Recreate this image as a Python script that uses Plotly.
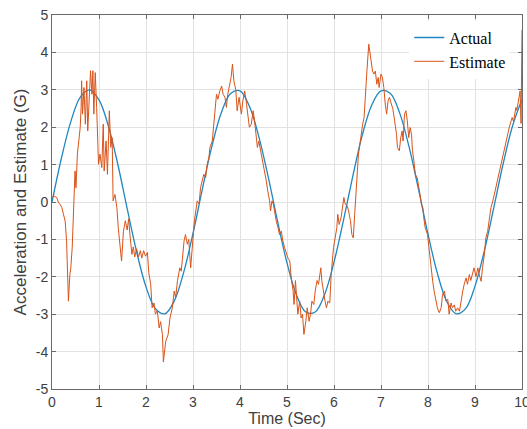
import plotly.graph_objects as go

# Actual acceleration, read at 0.2 s steps
actual_t = [round(i * 0.2, 1) for i in range(51)]
actual_v = [0, 1.17, 2.15, 2.80, 3.00, 2.73, 2.03, 1.01, -0.18, -1.33,
            -2.27, -2.85, -2.99, -2.65, -1.89, -0.84, 0.35, 1.48, 2.38, 2.90,
            2.97, 2.56, 1.75, 0.67, -0.52, -1.63, -2.48, -2.94, -2.94, -2.47,
            -1.61, -0.50, 0.69, 1.78, 2.58, 2.97, 2.90, 2.37, 1.46, 0.33,
            -0.86, -1.91, -2.66, -2.99, -2.85, -2.25, -1.30, -0.15, 1.03, 2.04, 2.74]

# Estimate
est_t = [0.00, 0.04, 0.10, 0.14, 0.17, 0.21, 0.24, 0.28, 0.31, 0.33, 0.35, 0.38, 0.40, 0.43,
         0.45, 0.48, 0.49, 0.51, 0.54, 0.57, 0.60, 0.62, 0.63, 0.65, 0.68, 0.71, 0.74, 0.76,
         0.79, 0.82, 0.85, 0.87, 0.89, 0.92, 0.95, 0.99, 1.02, 1.06, 1.09, 1.11, 1.15, 1.18,
         1.22, 1.25, 1.28, 1.30, 1.34, 1.38, 1.41, 1.45, 1.48, 1.52, 1.56, 1.60, 1.63, 1.66,
         1.70, 1.73, 1.76, 1.80, 1.84, 1.88, 1.91, 1.95, 1.99, 2.03,
         2.06, 2.10, 2.13, 2.17, 2.20, 2.24, 2.28, 2.31, 2.35, 2.37, 2.40, 2.42, 2.47, 2.51,
         2.56, 2.60, 2.63, 2.67, 2.72, 2.75, 2.81, 2.84, 2.88, 2.91, 2.95, 2.99, 3.03, 3.09,
         3.13, 3.16, 3.20, 3.23, 3.27, 3.30, 3.34, 3.36, 3.41, 3.45, 3.48, 3.50, 3.53, 3.57,
         3.61, 3.64, 3.68, 3.71, 3.74, 3.79, 3.81, 3.84, 3.87, 3.91, 3.94, 3.98,
         4.03, 4.06, 4.10, 4.13, 4.17, 4.20, 4.24, 4.28, 4.31, 4.35, 4.37, 4.40, 4.42, 4.45,
         4.49, 4.52, 4.56, 4.59, 4.63, 4.65, 4.68, 4.71, 4.74, 4.77, 4.81, 4.84, 4.88, 4.91,
         4.95, 4.99, 5.02, 5.06, 5.09, 5.13, 5.15, 5.18, 5.21, 5.23, 5.27, 5.30, 5.33, 5.36,
         5.40, 5.43, 5.47, 5.50, 5.53, 5.57, 5.60, 5.64, 5.67, 5.72, 5.74, 5.77, 5.81, 5.84,
         5.87, 5.91, 5.94,
         5.99, 6.03, 6.06, 6.08, 6.11, 6.15, 6.18, 6.21, 6.24, 6.28, 6.31, 6.35, 6.38, 6.41,
         6.44, 6.47, 6.50, 6.52, 6.55, 6.58, 6.61, 6.64, 6.67, 6.70, 6.74, 6.77, 6.79, 6.82,
         6.85, 6.88, 6.91, 6.94, 6.96, 7.00, 7.03, 7.06, 7.09, 7.12, 7.15, 7.18, 7.22, 7.25,
         7.29, 7.33, 7.35, 7.39, 7.42, 7.45, 7.47, 7.50, 7.53, 7.56, 7.59, 7.62, 7.65, 7.67,
         7.70, 7.73, 7.77, 7.80, 7.83, 7.86, 7.89, 7.91, 7.94,
         7.99, 8.03, 8.06, 8.10, 8.13, 8.17, 8.20, 8.24, 8.28, 8.31, 8.35, 8.38, 8.42, 8.45,
         8.49, 8.52, 8.56, 8.59, 8.63, 8.67, 8.70, 8.74, 8.77, 8.81, 8.84, 8.88, 8.91, 8.95,
         8.98, 9.02, 9.06, 9.09, 9.13, 9.16, 9.20, 9.23, 9.27, 9.30, 9.34, 9.38, 9.41, 9.45,
         9.48, 9.52, 9.55, 9.59, 9.62, 9.66, 9.69, 9.73, 9.77, 9.79, 9.82, 9.84, 9.87, 9.89,
         9.91, 9.94, 9.96, 9.98, 10.00]
est_v = [0.12, 0.16, 0.12, -0.02, -0.06, -0.15, -0.31, -0.51, -1.04, -1.76, -2.65, -1.94, -1.76, -1.22,
         -0.51, 0.20, 0.83, 0.38, 1.28, 1.63, 1.99, 2.53, 3.24, 2.35, 3.06, 2.08, 3.24, 1.90,
         2.79, 3.51, 2.88, 3.51, 2.35, 3.46, 2.53, 1.01, 1.28, 0.92, 2.08, 0.83, 1.63, 0.74,
         2.44, 1.46, 1.72, 0.03, 0.20, -0.15, -0.69, -1.22, -1.58, -0.78, -0.50, -0.75, -0.45, -0.90,
         -1.40, -1.20, -1.47, -1.25, -1.47, -1.30, -1.50, -1.30, -1.45, -1.35,
         -1.90, -2.20, -2.83, -2.70, -3.00, -2.90, -3.37, -3.20, -3.55, -4.28, -3.90, -3.72, -3.55, -3.10,
         -2.83, -2.38, -2.56, -2.10, -1.76, -1.85, -1.04, -0.87, -1.13, -1.00, -1.76, -1.04, -0.50, 0.03,
         -0.05, 0.38, 0.55, 0.74, 0.65, 1.00, 1.20, 1.46, 1.63, 2.17, 2.53, 2.88, 2.75, 2.97,
         3.10, 2.88, 2.80, 2.53, 2.88, 3.24, 3.33, 3.69, 3.24, 3.00, 2.44, 2.80,
         2.35, 2.70, 2.97, 2.70, 2.35, 2.00, 2.08, 2.44, 2.17, 1.63, 1.46, 1.63, 1.50, 1.37,
         1.10, 0.83, 0.56, 0.30, 0.03, -0.24, 0.03, -0.06, -0.33, -0.50, -0.69, -0.87, -0.78, -1.04,
         -1.22, -1.40, -1.50, -1.58, -2.03, -2.38, -2.74, -2.10, -2.65, -3.00, -2.65, -3.10, -3.00, -3.54,
         -3.19, -2.83, -3.19, -3.00, -2.65, -2.74, -2.38, -2.10, -2.20, -1.76, -2.10, -2.38, -2.65, -2.83,
         -2.65, -2.70, -1.94,
         -1.22, -0.87, -0.69, -0.33, -0.60, -0.42, -0.15, 0.12, -0.06, -0.10, -0.24, -0.50, -0.87, -0.96,
         -0.33, 0.29, 0.92, 1.28, 1.54, 1.90, 2.08, 2.26, 2.97, 3.50, 4.22, 3.96, 3.69, 3.50,
         3.42, 3.50, 3.15, 3.33, 3.06, 3.42, 3.33, 3.06, 2.62, 2.35, 2.70, 2.80, 2.62, 2.50,
         2.17, 1.81, 1.46, 1.37, 1.72, 1.90, 1.63, 2.35, 2.44, 2.17, 1.72, 1.99, 1.80, 1.37,
         1.10, 0.74, 0.65, 0.47, 0.20, -0.06, -0.15, -0.42, -0.69,
         -0.87, -1.40, -1.76, -2.12, -2.38, -2.65, -2.83, -2.96, -2.83, -2.47, -2.38, -2.65, -2.60, -3.00,
         -2.70, -2.83, -2.75, -2.92, -2.83, -2.92, -2.65, -2.38, -2.20, -2.03, -2.20, -1.94, -2.10, -1.94,
         -1.76, -2.00, -1.76, -1.94, -2.12, -1.76, -1.40, -0.96, -0.78, -0.50, -0.15, 0.03, 0.20, 0.47,
         0.65, 0.83, 1.00, 1.28, 1.46, 1.63, 1.81, 2.00, 2.17, 2.26, 2.15, 2.35, 2.53, 2.45,
         2.62, 2.88, 2.97, 2.10, 4.60]

x_ticks = [0, 1, 2, 3, 4, 5, 6, 7, 8, 9, 10]
x_tick_labels = ["0", "1", "2", "3", "4", "5", "6", "7", "8", "9", "10"]
y_ticks = [-5, -4, -3, -2, -1, 0, 1, 2, 3, 4, 5]
y_tick_labels = ["-5", "-4", "-3", "-2", "-1", "0", "1", "2", "3", "4", "5"]

fig = go.Figure()
fig.add_trace(go.Scatter(x=actual_t, y=actual_v, mode="lines", name="Actual",
                         line=dict(color="#1f87c0", width=1.3, shape="spline")))
fig.add_trace(go.Scatter(x=est_t, y=est_v, mode="lines", name="Estimate",
                         line=dict(color="#d95319", width=1)))

axis_common = dict(showline=True, linecolor="#6a6a6a", linewidth=1, mirror="ticks",
                   ticks="inside", ticklen=4, tickcolor="#6a6a6a",
                   showgrid=True, gridcolor="#e2e2e2", gridwidth=1, zeroline=False,
                   ticklabeloverflow="allow", automargin=False,
                   tickfont=dict(family="Liberation Sans, Arial", size=14, color="#404040"))

fig.update_xaxes(range=[0, 10], tickvals=x_ticks, ticktext=x_tick_labels,
                 title=dict(text="Time (Sec)", standoff=3,
                            font=dict(family="Liberation Sans, Arial", size=16, color="#404040")),
                 **axis_common)
fig.update_yaxes(range=[-5, 5], tickvals=y_ticks, ticktext=y_tick_labels,
                 title=dict(text="Acceleration and Estimate (G)", standoff=4,
                            font=dict(family="Liberation Sans, Arial", size=17, color="#404040")),
                 **axis_common)

fig.update_layout(
    width=527, height=429,
    margin=dict(l=52, r=5, t=15, b=40),
    paper_bgcolor="white", plot_bgcolor="white",
    legend=dict(x=0.975, y=0.985, xanchor="right", yanchor="top",
                bgcolor="white", borderwidth=0, tracegroupgap=0,
                font=dict(family="Liberation Serif, Times New Roman", size=16, color="black")),
)

fig.write_html("out.html", config={"displayModeBar": False},
               post_script="document.body.style.margin='0';")
